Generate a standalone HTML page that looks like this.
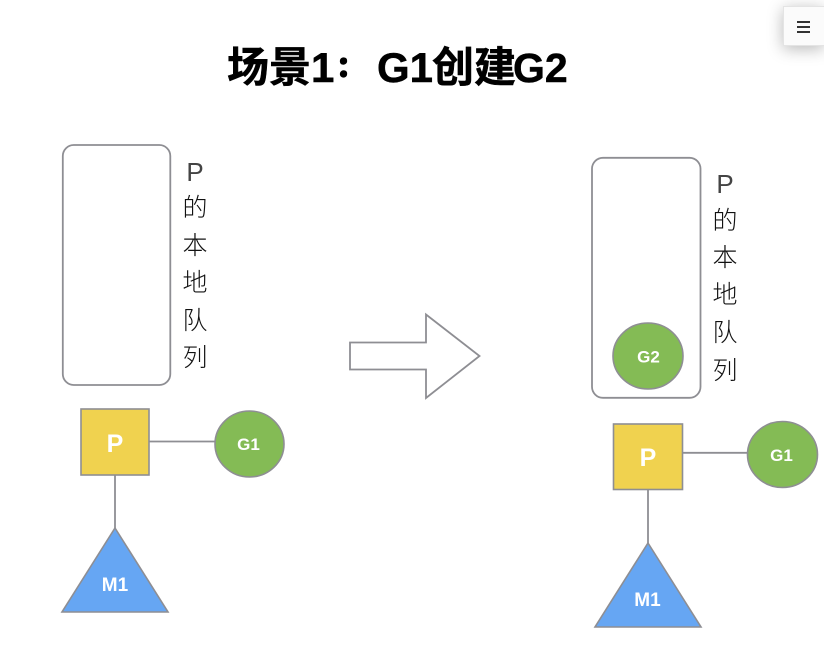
<!DOCTYPE html>
<html lang="zh-CN">
<head>
<meta charset="utf-8">
<style>
html,body{margin:0;padding:0;background:#fff;width:824px;height:649px;overflow:hidden}
svg{position:absolute;left:0;top:0}
text{font-family:"Liberation Sans","Noto Sans CJK SC",sans-serif}
.menu{position:absolute;left:783px;top:6px;width:41px;height:40px;box-sizing:border-box;background:#fbfbfb;border:1px solid #e4e4e4;border-right:none;box-shadow:0 3px 16px rgba(0,0,0,.28)}
.menu i{position:absolute;left:13px;width:13px;height:2px;background:#333}
</style>
</head>
<body>
<svg width="824" height="649" viewBox="0 0 824 649" xmlns="http://www.w3.org/2000/svg">
  <g font-weight="700" fill="#000" font-size="42" stroke="#000" stroke-width=".5">
    <text x="227" y="82">场景1</text>
    <text x="337" y="76" font-size="26" stroke-width="2.4">：</text>
    <text x="377" y="82">G1</text>
    <text x="432" y="82">创建</text>
    <text x="513" y="82" font-size="41">G2</text>
  </g>

  <g fill="none" stroke="#8e8e93" stroke-width="1.8">
    <rect x="62.800" y="145" width="107.500" height="240" rx="11"/>
    <rect x="592" y="157.800" width="108.500" height="240" rx="11"/>
    <path d="M115 441.500H215M115 475V528M648 452.800H748M648 490V543"/>
    <path d="M350 342.500H426V314.500L479.500 356L426 398V369.500H350Z" fill="#fff"/>
  </g>

  <g font-size="25" fill="#111" text-anchor="middle" font-weight="300">
    <text x="195" y="181" font-size="26" fill="#444">P</text>
    <text x="195" y="216">的</text>
    <text x="195" y="254">本</text>
    <text x="195" y="291">地</text>
    <text x="195" y="329">队</text>
    <text x="195" y="366">列</text>
    <text x="725" y="193" font-size="26" fill="#444">P</text>
    <text x="725" y="229">的</text>
    <text x="725" y="266">本</text>
    <text x="725" y="303">地</text>
    <text x="725" y="341">队</text>
    <text x="725" y="379">列</text>
  </g>

  <g stroke="#8e8e93" stroke-width="1.6">
    <rect x="81" y="409" width="68" height="66" fill="#f0d24f"/>
    <ellipse cx="249.500" cy="444" rx="34.500" ry="33" fill="#84bb55"/>
    <path d="M115 528L168 612H62Z" fill="#66a6f3"/>
    <ellipse cx="648" cy="356" rx="35" ry="33" fill="#84bb55"/>
    <rect x="613.500" y="424" width="69" height="65.500" fill="#f0d24f"/>
    <ellipse cx="782.500" cy="454.500" rx="35" ry="33" fill="#84bb55"/>
    <path d="M648 543L701 627H595Z" fill="#66a6f3"/>
  </g>

  <g fill="#fff" font-weight="700" text-anchor="middle">
    <text x="115" y="452" font-size="25">P</text>
    <text x="248.500" y="450" font-size="17">G1</text>
    <text x="115" y="591" font-size="19">M1</text>
    <text x="648.500" y="362.500" font-size="17">G2</text>
    <text x="648" y="466" font-size="25">P</text>
    <text x="781.500" y="461" font-size="17">G1</text>
    <text x="647.500" y="606" font-size="19">M1</text>
  </g>
</svg>
<div class="menu"><i style="top:14px"></i><i style="top:19px"></i><i style="top:24px"></i></div>
</body>
</html>
